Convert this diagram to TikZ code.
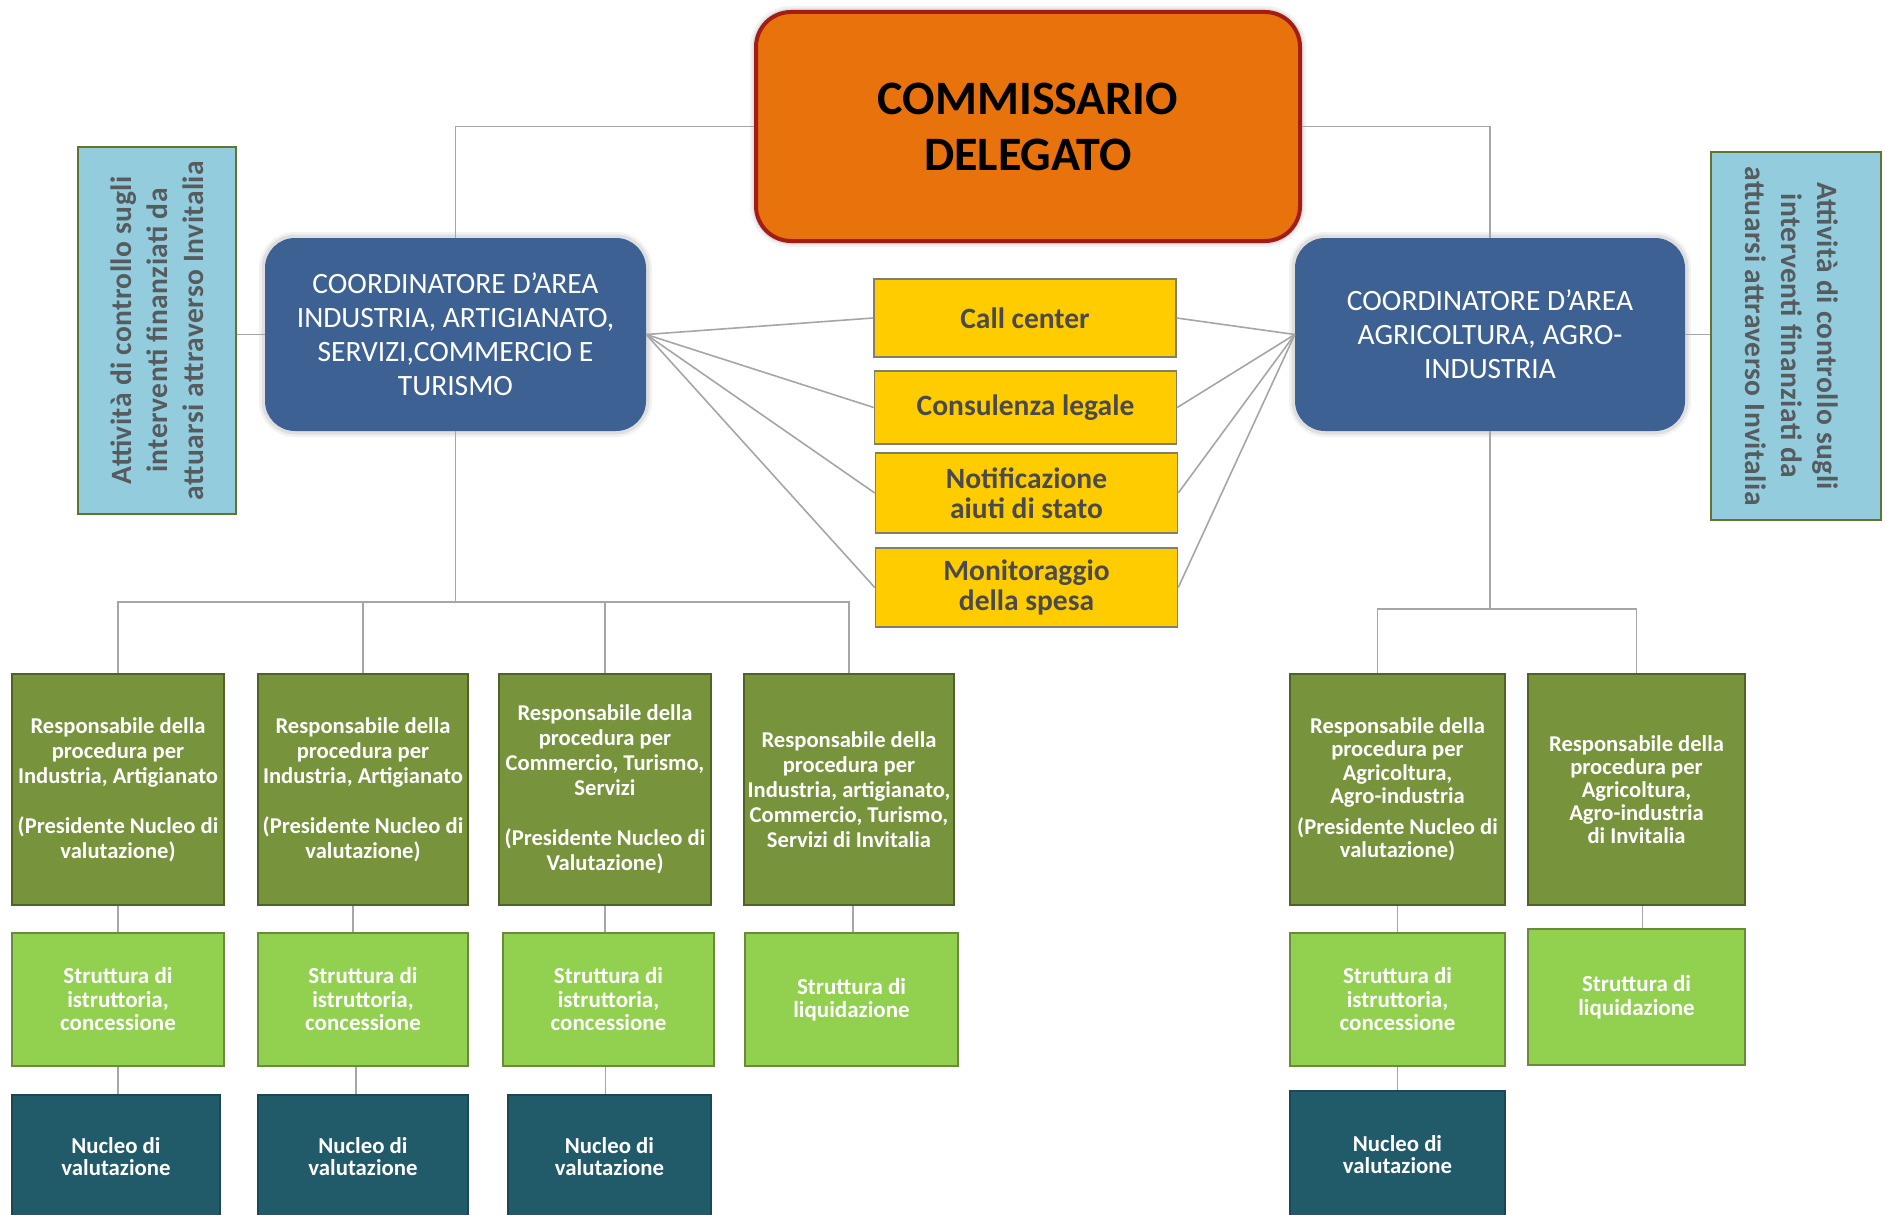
\documentclass[tikz,border=0pt]{standalone}
\usepackage{fontspec}
\setmainfont{Carlito}
\usetikzlibrary{calc}
\definecolor{orangeF}{HTML}{E8720C}
\definecolor{redB}{HTML}{A31D14}
\definecolor{blueC}{HTML}{3E6193}
\definecolor{sideF}{HTML}{93CDDD}
\definecolor{sideB}{HTML}{5F7530}
\definecolor{sideT}{HTML}{555B5E}
\definecolor{yellowF}{HTML}{FFCC00}
\definecolor{yellowB}{HTML}{7F7F6A}
\definecolor{yellowT}{HTML}{4A4A4A}
\definecolor{oliveF}{HTML}{77933C}
\definecolor{oliveB}{HTML}{4F6228}
\definecolor{lightF}{HTML}{92D050}
\definecolor{lightB}{HTML}{6A8A3C}
\definecolor{nucF}{HTML}{215A69}
\definecolor{lineC}{HTML}{A6A6A6}
\tikzset{
  glow/.style={preaction={draw=black,line width=12pt,opacity=0.05},
               preaction={draw=black,line width=7pt,opacity=0.08}},
  orangebox/.style={glow,rounded corners=35pt,fill=orangeF,draw=redB,line width=4pt,
     minimum width=544pt,minimum height=229pt,inner sep=0pt,align=center,text=black,
     font=\bfseries\fontsize{48}{56}\selectfont},
  coordbox/.style={glow,rounded corners=30pt,fill=blueC,minimum height=193pt,inner sep=0pt,
     align=center,text=white,font=\fontsize{29.5}{34}\selectfont},
  sidebox/.style={fill=sideF,draw=sideB,line width=1.5pt,inner sep=0pt},
  sidetext/.style={inner sep=0pt,align=center,text=sideT,
     font=\bfseries\fontsize{29.5}{36}\selectfont\addfontfeature{LetterSpace=1.5}},
  ybox/.style={fill=yellowF,draw=yellowB,line width=1.5pt,minimum width=302pt,inner sep=0pt,
     align=center,text=yellowT,font=\bfseries\fontsize{29.5}{30}\selectfont},
  gbox/.style={fill=oliveF,draw=oliveB,line width=1.5pt,minimum height=231pt,inner sep=0pt,
     align=center,text=white,font=\bfseries\fontsize{22.6}{25}\selectfont},
  lbox/.style={fill=lightF,draw=lightB,line width=1.5pt,minimum height=133pt,inner sep=0pt,
     align=center,text=white,font=\bfseries\fontsize{23}{23.5}\selectfont},
  nbox/.style={fill=nucF,draw=nucF!80!black,line width=1.5pt,minimum height=124pt,inner sep=0pt,
     align=center,text=white,font=\bfseries\fontsize{22.8}{22}\selectfont},
  conn/.style={draw=lineC,line width=1.6pt}
}
\begin{document}
\begin{tikzpicture}[x=1pt,y=-1pt]
\useasboundingbox[fill=white] (0,0) rectangle (1887,1215);

% top
\node[orangebox] (cd) at (1028,126.5) {COMMISSARIO\\DELEGATO};
\node[coordbox,minimum width=381pt] (lc) at (455.5,334.5)
  {COORDINATORE D’AREA\\INDUSTRIA, ARTIGIANATO,\\SERVIZI,COMMERCIO E\\TURISMO};
\node[coordbox,minimum width=390pt] (rc) at (1490,334.5)
  {COORDINATORE D’AREA\\AGRICOLTURA, AGRO-\\INDUSTRIA};

% side boxes
\node[sidebox,minimum width=158pt,minimum height=367pt] (lb) at (157,330.5) {};
\node[sidetext,rotate=90] (lbt) at (lb.center)
  {Attività di controllo sugli\\interventi finanziati da\\attuarsi attraverso Invitalia};
\node[sidebox,minimum width=170pt,minimum height=368pt] (rb) at (1796,336) {};
\node[sidetext,rotate=-90] (rbt) at (1792,336)
  {Attività di controllo sugli\\interventi finanziati da\\attuarsi attraverso Invitalia};

% yellow services
\node[ybox,minimum height=78pt] (y1) at (1025,318) {Call center};
\node[ybox,minimum height=73pt] (y2) at (1025.5,407.5) {Consulenza legale};
\node[ybox,minimum height=80pt] (y3) at (1026.5,493) {Notificazione\\aiuti di stato};
\node[ybox,minimum height=79pt] (y4) at (1026.5,587.5) {Monitoraggio\\della spesa};

% green responsible boxes
\node[gbox,minimum width=212pt] (g1) at (118,789.5)
  {Responsabile della\\procedura per\\Industria, Artigianato\\[25pt](Presidente Nucleo di\\valutazione)};
\node[gbox,minimum width=210pt] (g2) at (363,789.5)
  {Responsabile della\\procedura per\\Industria, Artigianato\\[25pt](Presidente Nucleo di\\valutazione)};
\node[gbox,minimum width=212pt] (g3) at (605,789.5)
  {Responsabile della\\procedura per\\Commercio, Turismo,\\Servizi\\[25pt](Presidente Nucleo di\\Valutazione)};
\node[gbox,minimum width=210pt] (g4) at (849,789.5)
  {Responsabile della\\procedura per\\Industria, artigianato,\\Commercio, Turismo,\\Servizi di Invitalia};
\node[gbox,minimum width=215pt,font=\bfseries\fontsize{22.6}{23.5}\selectfont] (g5) at (1397.5,789.5)
  {Responsabile della\\procedura per\\Agricoltura,\\Agro-industria\\[7pt](Presidente Nucleo di\\valutazione)};
\node[gbox,minimum width=217pt,font=\bfseries\fontsize{22.6}{23}\selectfont] (g6) at (1636.5,789.5)
  {Responsabile della\\procedura per\\Agricoltura,\\Agro-industria\\di Invitalia};

% light green boxes
\node[lbox,minimum width=212pt] (l1) at (118,999.5) {Struttura di\\istruttoria,\\concessione};
\node[lbox,minimum width=210pt] (l2) at (363,999.5) {Struttura di\\istruttoria,\\concessione};
\node[lbox,minimum width=211pt] (l3) at (608.5,999.5) {Struttura di\\istruttoria,\\concessione};
\node[lbox,minimum width=213pt] (l4) at (851.5,999.5) {Struttura di\\liquidazione};
\node[lbox,minimum width=215pt] (l5) at (1397.5,999.5) {Struttura di\\istruttoria,\\concessione};
\node[lbox,minimum width=217pt,minimum height=136pt] (l6) at (1636.5,997) {Struttura di\\liquidazione};

% nucleo boxes
\node[nbox,minimum width=208pt] (n1) at (116,1157) {Nucleo di\\valutazione};
\node[nbox,minimum width=210pt] (n2) at (363,1157) {Nucleo di\\valutazione};
\node[nbox,minimum width=203pt] (n3) at (609.5,1157) {Nucleo di\\valutazione};
\node[nbox,minimum width=215pt,minimum height=128pt] (n5) at (1397.5,1155) {Nucleo di\\valutazione};

% connectors
\draw[conn] (cd.west) -| (lc.north);
\draw[conn] (cd.east) -| (rc.north);
\draw[conn] (lc.west) -- (lc.west -| lb.east);
\draw[conn] (rc.east) -- (rc.east -| rb.west);
\foreach \yy in {y1,y2,y3,y4}{
  \draw[conn] (lc.east) -- (\yy.west);
  \draw[conn] (rc.west) -- (\yy.east);
}
\coordinate (lbus) at (455.5,602);
\draw[conn] (lc.south) -- (lbus);
\draw[conn] (g1.north) |- (g4.north |- lbus) -- (g4.north);
\draw[conn] (g2.north) -- (g2.north |- lbus);
\draw[conn] (g3.north) -- (g3.north |- lbus);
\coordinate (rbus) at (1490,609);
\draw[conn] (rc.south) -- (rbus);
\coordinate (g5top) at ($(g5.north)+(-20,0)$);
\draw[conn] (g5top) |- (g6.north |- rbus) -- (g6.north);

\draw[conn] (g1.south) -- (g1.south |- l1.north);
\draw[conn] ($(g2.south)+(-10,0)$) -- ($(g2.south |- l2.north)+(-10,0)$);
\draw[conn] (g3.south) -- (g3.south |- l3.north);
\draw[conn] ($(g4.south)+(4,0)$) -- ($(g4.south |- l4.north)+(4,0)$);
\draw[conn] (g5.south) -- (g5.south |- l5.north);
\draw[conn] ($(g6.south)+(6,0)$) -- ($(g6.south |- l6.north)+(6,0)$);

\draw[conn] (l1.south) -- (l1.south |- n1.north);
\draw[conn] ($(l2.south)+(-7,0)$) -- ($(l2.south |- n2.north)+(-7,0)$);
\draw[conn] ($(l3.south)+(-3,0)$) -- ($(l3.south |- n3.north)+(-3,0)$);
\draw[conn] (l5.south) -- (l5.south |- n5.north);
\end{tikzpicture}
\end{document}
